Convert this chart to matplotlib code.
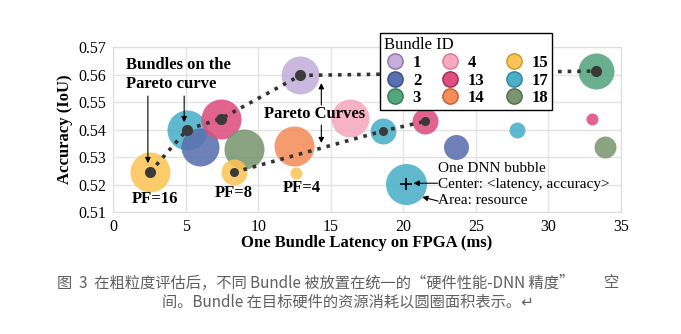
import numpy as np
import matplotlib
matplotlib.use('Agg')
from matplotlib import pyplot as plt
from matplotlib.lines import Line2D

plt.rcParams['font.family'] = ['Liberation Serif', 'DejaVu Serif']

# bubble data: bundle id, latency (ms), accuracy (IoU), resource (relative area)
bubble_id = [15, 17, 2, 13, 18, 15, 1, 14, 15, 4, 17, 13, 2, 17, 13, 18, 3, 17]
latency = [2.55, 5.1, 6.0, 7.45, 9.0, 8.35, 12.9, 12.5, 12.6, 16.3,
           18.6, 21.5, 23.65, 27.8, 33.0, 33.9, 33.3, 20.2]
accuracy = [0.5245, 0.540, 0.5335, 0.544, 0.533, 0.5245, 0.5597, 0.534, 0.5243, 0.5442,
            0.5395, 0.543, 0.5335, 0.540, 0.544, 0.5335, 0.5613, 0.5203]
resource = [100, 100, 90, 100, 100, 42, 90, 100, 9, 90,
            42, 42, 39, 16, 9, 30, 81, 105]

# pareto curves
pf16_lat = [2.55, 5.1, 7.45, 12.9, 33.3]
pf16_acc = [0.5245, 0.540, 0.544, 0.5597, 0.5613]
pf8_lat = [8.35, 18.6, 21.5]
pf8_acc = [0.5245, 0.5395, 0.543]

legend_ids = [1, 2, 3, 4, 13, 14, 15, 17, 18]
colors = {1: '#c4aedb', 2: '#5a6fae', 3: '#55a57f', 4: '#f6a9be', 13: '#dc4f7f',
          14: '#f48d5a', 15: '#fcc457', 17: '#4ab0c8', 18: '#7a9670'}
edges = {1: '#8a73a6', 2: '#3b4d85', 3: '#2f7a57', 4: '#d77990', 13: '#a82350',
         14: '#c45f2d', 15: '#c9952a', 17: '#2a8199', 18: '#52684a'}

caption1 = '图  3  在粗粒度评估后，不同 Bundle 被放置在统一的“硬件性能-DNN 精度”'
caption1_end = '空'
caption2 = '间。Bundle 在目标硬件的资源消耗以圆圈面积表示。↵'

fig = plt.figure(figsize=(6.81, 3.34), dpi=100)
ax = fig.add_axes([0.166, 0.365, 0.746, 0.494])

ax.grid(True, color='#e3e3e3', lw=1.0, zorder=0)
ax.set_axisbelow(True)
for s in ax.spines.values():
    s.set_color('#dcdcdc')

for i in range(len(latency)):
    ax.scatter(latency[i], accuracy[i], s=resource[i] * 8.3,
               color=colors[bubble_id[i]], alpha=0.88, lw=0, zorder=2)

ax.plot(pf16_lat, pf16_acc, ls=':', lw=2.6, color='#333333', zorder=3)
ax.plot(pf16_lat, pf16_acc, 'o', ms=7, color='#3a3a3a', zorder=4)
ax.plot(pf8_lat, pf8_acc, ls=':', lw=2.6, color='#333333', zorder=3)
ax.plot(pf8_lat, pf8_acc, 'o', ms=5.5, color='#3a3a3a', zorder=4)

ax.plot(20.2, 0.5203, marker='+', ms=8, mew=1.2, color='black', zorder=5)

ax.set_xlim(0, 35)
ax.set_ylim(0.51, 0.57)
ax.set_xticks([0, 5, 10, 15, 20, 25, 30, 35])
ax.set_yticks([0.51, 0.52, 0.53, 0.54, 0.55, 0.56, 0.57])
ax.set_yticklabels(['0.51', '0.52', '0.53', '0.54', '0.55', '0.56', '0.57'])
ax.tick_params(length=0, labelsize=11.5, pad=5)
ax.set_xlabel('One Bundle Latency on FPGA (ms)', fontsize=12, fontweight='bold', labelpad=0)
ax.set_ylabel('Accuracy (IoU)', fontsize=12, fontweight='bold', labelpad=4)

arr = dict(arrowstyle='-|>', color='black', lw=0.8, mutation_scale=8, shrinkA=0, shrinkB=0)
bold = dict(fontsize=12, fontweight='bold')

ax.text(0.9, 0.5600, 'Bundles on the\nPareto curve', ha='left', va='center',
        linespacing=1.2, zorder=6, **bold)
ax.annotate('', xy=(2.4, 0.5278), xytext=(2.4, 0.5522), arrowprops=arr, zorder=6)
ax.annotate('', xy=(4.9, 0.5427), xytext=(4.9, 0.5522), arrowprops=arr, zorder=6)

ax.text(2.9, 0.5148, 'PF=16', ha='center', va='center', zorder=6, **bold)
ax.text(8.3, 0.5171, 'PF=8', ha='center', va='center', zorder=6, **bold)
ax.text(13.0, 0.5189, 'PF=4', ha='center', va='center', zorder=6, **bold)

ax.text(13.9, 0.5456, 'Pareto Curves', ha='center', va='center', zorder=6, **bold)
ax.annotate('', xy=(14.35, 0.5569), xytext=(14.35, 0.5489), arrowprops=arr, zorder=6)
ax.annotate('', xy=(14.35, 0.5351), xytext=(14.35, 0.5416), arrowprops=arr, zorder=6)

ax.text(22.4, 0.5201, 'One DNN bubble\nCenter: <latency, accuracy>\nArea: resource',
        ha='left', va='center', fontsize=11, linespacing=1.3, zorder=6)
ax.annotate('', xy=(20.7, 0.5205), xytext=(22.35, 0.5205), arrowprops=arr, zorder=6)
ax.annotate('', xy=(21.3, 0.5155), xytext=(22.4, 0.514), arrowprops=arr, zorder=6)

handles = [Line2D([], [], ls='', marker='o', ms=11, markerfacecolor=colors[b],
                  markeredgecolor=edges[b], mew=1.0) for b in legend_ids]
leg = ax.legend(handles, [str(b) for b in legend_ids], ncol=3, title='Bundle ID',
                loc='upper left', bbox_to_anchor=(0.526, 1.085), frameon=True,
                fancybox=False, edgecolor='black', framealpha=1,
                prop={'size': 12, 'weight': 'bold'}, title_fontsize=12,
                alignment='left', handletextpad=0.4, columnspacing=1.1,
                labelspacing=0.1, borderpad=0.25, handlelength=1.3, borderaxespad=0)
leg.get_frame().set_linewidth(1.0)
leg.set_zorder(10)

cap = dict(fontsize=11, color='#5f5f5f', family=['Noto Sans CJK SC', 'DejaVu Sans'])
fig.text(57 / 681, 1 - 283 / 334, caption1, ha='left', va='center', **cap)
fig.text(619 / 681, 1 - 283 / 334, caption1_end, ha='right', va='center', **cap)
fig.text(348 / 681, 1 - 302 / 334, caption2, ha='center', va='center', **cap)

fig.savefig('out.png', dpi=100)
